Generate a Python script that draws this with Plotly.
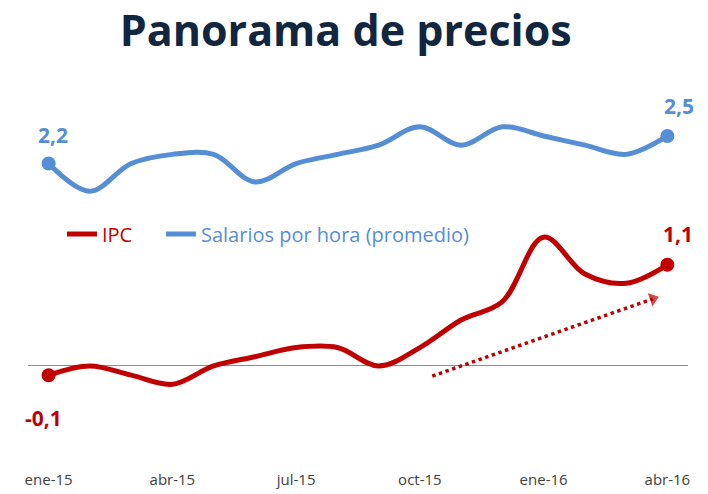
import plotly.graph_objects as go

months = ["ene-15", "feb-15", "mar-15", "abr-15", "may-15", "jun-15", "jul-15", "ago-15",
          "sep-15", "oct-15", "nov-15", "dic-15", "ene-16", "feb-16", "mar-16", "abr-16"]
ipc = [-0.1, 0.0, -0.1, -0.2, 0.0, 0.1, 0.2, 0.2, 0.0, 0.2, 0.5, 0.7, 1.4, 1.0, 0.9, 1.1]
salarios = [2.2, 1.9, 2.2, 2.3, 2.3, 2.0, 2.2, 2.3, 2.4, 2.6, 2.4, 2.6, 2.5, 2.4, 2.3, 2.5]
tick_labels = ["ene-15", "abr-15", "jul-15", "oct-15", "ene-16", "abr-16"]
tick_idx = [0, 3, 6, 9, 12, 15]
trend_x = [9.3, 14.65]
trend_y = [-0.11, 0.73]

RED = "#C00000"
BLUE = "#558ED5"
FONT = "Open Sans"

x = list(range(len(months)))
ends_x = [x[0], x[-1]]

fig = go.Figure()
fig.add_trace(go.Scatter(
    x=x, y=ipc, mode="lines", name=f"<span style='color:{RED}'>IPC</span>",
    line=dict(color=RED, width=5, shape="spline", smoothing=1.0), legend="legend",
))
fig.add_trace(go.Scatter(
    x=x, y=salarios, mode="lines",
    name=f"<span style='color:{BLUE}'>Salarios por hora (promedio)</span>",
    line=dict(color=BLUE, width=5, shape="spline", smoothing=1.0), legend="legend2",
))
fig.add_trace(go.Scatter(x=ends_x, y=[ipc[0], ipc[-1]], mode="markers", showlegend=False,
                         marker=dict(size=14, color=RED)))
fig.add_trace(go.Scatter(x=ends_x, y=[salarios[0], salarios[-1]], mode="markers", showlegend=False,
                         marker=dict(size=14, color=BLUE)))
# dotted trend arrow
fig.add_trace(go.Scatter(
    x=trend_x, y=trend_y, mode="lines+markers", showlegend=False, hoverinfo="skip",
    line=dict(color=RED, width=3.5, dash="dot"),
    marker=dict(size=[0, 14], symbol="triangle-up", angleref="previous", color=RED),
))

def fmt(v):
    return f"{v:.1f}".replace(".", ",")

ann = []
lab_font = dict(family=FONT, size=21, color=BLUE)
ann.append(dict(x=x[0], y=salarios[0], text=f"<b>{fmt(salarios[0])}</b>", showarrow=False,
                xshift=4, yshift=29, font=lab_font))
ann.append(dict(x=x[-1], y=salarios[-1], text=f"<b>{fmt(salarios[-1])}</b>", showarrow=False,
                xshift=12, yshift=30, font=lab_font))
red_font = dict(family=FONT, size=21, color=RED)
ann.append(dict(x=x[0], y=ipc[0], text=f"<b>{fmt(ipc[0])}</b>", showarrow=False,
                xshift=-5, yshift=-43, font=red_font))
ann.append(dict(x=x[-1], y=ipc[-1], text=f"<b>{fmt(ipc[-1])}</b>", showarrow=False,
                xshift=11, yshift=31, font=red_font))

leg_common = dict(orientation="h", y=0.628, xanchor="left", yanchor="middle",
                  font=dict(family=FONT, size=20), bgcolor="rgba(0,0,0,0)", itemwidth=30)

fig.update_layout(
    width=708, height=494,
    margin=dict(l=20, r=28, t=92, b=42),
    paper_bgcolor="white", plot_bgcolor="white",
    title=dict(text="<b>Panorama de precios</b>", x=0.477, xanchor="center",
               y=0.954, yanchor="middle", yref="container",
               font=dict(family=FONT, size=43, color="#12263F")),
    showlegend=True,
    legend=dict(x=0.0515, **leg_common),
    legend2=dict(x=0.2015, **leg_common),
    xaxis=dict(range=[-0.5, 15.5], tickvals=tick_idx, ticktext=tick_labels,
               showgrid=False, zeroline=False, showline=False, ticks="",
               ticklabelstandoff=9,
               tickfont=dict(family=FONT, size=15, color="#404040")),
    yaxis=dict(range=[-1.022, 2.891], showgrid=False, zeroline=True,
               zerolinecolor="#8C8C8C", zerolinewidth=1, showticklabels=False,
               showline=False, ticks=""),
    annotations=ann,
)

fig.write_html("out.html")
